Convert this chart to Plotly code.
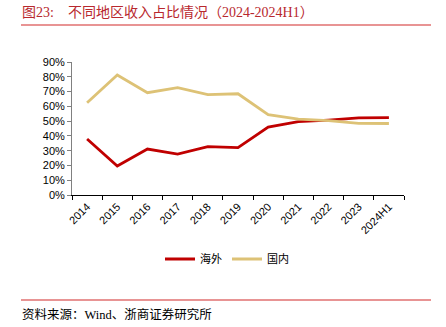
import plotly.graph_objects as go

categories = ["2014", "2015", "2016", "2017", "2018", "2019", "2020", "2021", "2022", "2023", "2024H1"]
overseas = [0.379, 0.196, 0.311, 0.277, 0.327, 0.320, 0.460, 0.496, 0.507, 0.522, 0.523]
domestic = [0.624, 0.812, 0.692, 0.726, 0.679, 0.685, 0.543, 0.514, 0.503, 0.485, 0.484]
y_ticks = [0, 0.1, 0.2, 0.3, 0.4, 0.5, 0.6, 0.7, 0.8, 0.9]

RED = "#C00000"
GOLD = "#DDC276"
LINE_RED = "#E07070"
CJK = "Liberation Serif, Noto Sans CJK SC, serif"

# plot area in pixels
L, R, T, B = 72, 404, 62, 195
W, H = 446, 327

def px_x(px):
    return (px - L) / (R - L)

def px_y(py):
    return (B - py) / (B - T)

fig = go.Figure()
fig.add_trace(go.Scatter(x=categories, y=overseas, mode="lines", name="海外",
                         line=dict(color=RED, width=2.8)))
fig.add_trace(go.Scatter(x=categories, y=domestic, mode="lines", name="国内",
                         line=dict(color=GOLD, width=2.8)))

fig.update_layout(
    width=W, height=H,
    margin=dict(l=L, r=W - R, t=T, b=H - B, pad=0),
    paper_bgcolor="white", plot_bgcolor="white",
    font=dict(family="Liberation Sans, Arial, sans-serif", size=11, color="#000"),
    showlegend=True,
    legend=dict(orientation="h", x=px_x(160), y=px_y(259), xanchor="left", yanchor="middle",
                font=dict(family=CJK, size=11, color="#000"),
                itemwidth=30, tracegroupgap=0, bgcolor="rgba(0,0,0,0)"),
    xaxis=dict(type="category", tickson="boundaries", ticks="outside", ticklen=4,
               tickcolor="#000", showline=True, linecolor="#000", linewidth=1,
               showgrid=False, tickangle=-45, tickfont=dict(size=11),
               range=[-0.5, len(categories) - 0.5], fixedrange=True),
    yaxis=dict(range=[0, 0.9], tickvals=y_ticks, tickformat=".0%", ticks="outside",
               ticklen=4, tickcolor="#808080", showline=True, linecolor="#808080",
               linewidth=1, showgrid=False, zeroline=False, tickfont=dict(size=11),
               fixedrange=True),
)

# title
fig.add_annotation(xref="paper", yref="paper", x=px_x(20), y=px_y(13), xanchor="left",
                   yanchor="middle", showarrow=False,
                   text="图23:\u00a0\u00a0\u00a0\u00a0不同地区收入占比情况（2024-2024H1）",
                   font=dict(family=CJK, size=14, color="#B8282E"))
# separator lines
for py in (25, 300):
    fig.add_shape(type="line", xref="paper", yref="paper", x0=px_x(21), x1=px_x(431),
                  y0=px_y(py), y1=px_y(py), line=dict(color=LINE_RED, width=1.5))
# source
fig.add_annotation(xref="paper", yref="paper", x=px_x(20), y=px_y(314), xanchor="left",
                   yanchor="middle", showarrow=False,
                   text="资料来源：Wind、浙商证券研究所",
                   font=dict(family=CJK, size=12.5, color="#000"))

fig.write_html("out.html")
